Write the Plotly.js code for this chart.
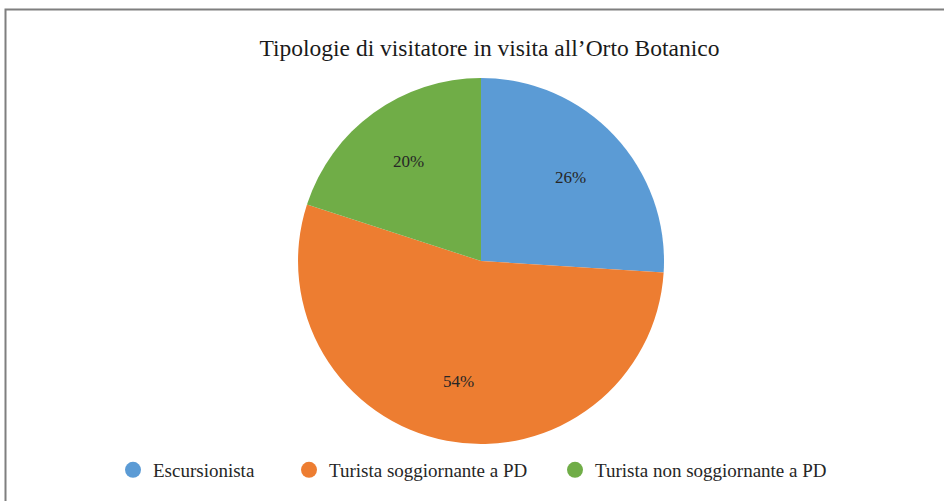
<!DOCTYPE html>
<html>
<head>
<meta charset="utf-8">
<script src="https://cdn.plot.ly/plotly-3.0.1.min.js"></script>
<style>html,body{margin:0;padding:0;background:#fff;}#chart{width:944px;height:501px;}
#fontwarm{position:absolute;left:0;top:0;font:20px "Liberation Serif";color:rgba(0,0,0,0);pointer-events:none;}</style>
</head>
<body>
<div id="fontwarm">Tipologie 26%</div>
<div id="chart"></div>
<script>
const categories = ["Escursionista", "Turista soggiornante a PD", "Turista non soggiornante a PD"];
const shares = [26, 54, 20];
const colors = ["#5B9BD5", "#ED7D31", "#70AD47"];
const chartTitle = "Tipologie di visitatore in visita all\u2019Orto Botanico";

const serif = "Liberation Serif";

// pie geometry (paper fractions)
const pieDomX = [0.3157, 0.7034];
const pieDomY = [0.1138, 0.8443];
const W = 944, H = 501;

const pieTrace = {
  type: "pie",
  labels: categories,
  values: shares,
  marker: {colors: colors, line: {width: 0}},
  sort: false,
  direction: "clockwise",
  rotation: 0,
  textinfo: "none",
  hoverinfo: "label+percent",
  showlegend: false,
  domain: {x: pieDomX, y: pieDomY}
};

// data labels placed at 2/3 of the radius along each slice's mid-angle
const total = shares.reduce((a, b) => a + b, 0);
const cx = (pieDomX[0] + pieDomX[1]) / 2 * W;
const cyPx = (pieDomY[0] + pieDomY[1]) / 2 * H;
const R = Math.min((pieDomX[1] - pieDomX[0]) * W, (pieDomY[1] - pieDomY[0]) * H) / 2;
let acc = 0;
const labelAnn = shares.map((v) => {
  const mid = (acc + v / 2) / total * 2 * Math.PI;
  acc += v;
  const px = cx + 0.67 * R * Math.sin(mid);
  const py = cyPx + 0.67 * R * Math.cos(mid);
  return {xref: "paper", yref: "paper", x: px / W, y: py / H, xanchor: "center", yanchor: "middle",
          text: Math.round(v / total * 100) + "%", showarrow: false,
          font: {family: serif, size: 17, color: "#262626"}};
});

const legendNames = ["legend", "legend2", "legend3"];
const legendX = [113 / W, 289 / W, 555 / W];
const legendTraces = categories.map((c, i) => ({
  type: "scatter",
  mode: "markers",
  x: [null], y: [null],
  name: c,
  legend: legendNames[i],
  marker: {symbol: "circle", size: 17, color: colors[i]},
  showlegend: true,
  hoverinfo: "skip"
}));

const layout = {
  width: W, height: H,
  margin: {l: 0, r: 0, t: 0, b: 0},
  paper_bgcolor: "#ffffff",
  plot_bgcolor: "rgba(0,0,0,0)",
  font: {family: serif},
  title: {text: chartTitle, font: {family: serif, size: 23.5, color: "#1a1a1a"}, x: 0.5185, xanchor: "center", y: 0.905, yanchor: "middle"},
  xaxis: {visible: false, domain: [0, 1]},
  yaxis: {visible: false, domain: [0, 1]},
  showlegend: true,
  annotations: labelAnn,
  shapes: [{type: "rect", xref: "paper", yref: "paper", x0: 5.5/W, x1: 1.02, y0: -0.02, y1: (H-9.5)/H,
            line: {color: "#7f7f7f", width: 2}, fillcolor: "rgba(0,0,0,0)"}]
};
legendNames.forEach((ln, i) => {
  layout[ln] = {orientation: "h", x: legendX[i], xanchor: "left", y: 0.062, yanchor: "middle",
                font: {family: serif, size: 19, color: "#262626"}, bgcolor: "rgba(0,0,0,0)"};
});

Plotly.newPlot("chart", [pieTrace].concat(legendTraces), layout, {displayModeBar: false, staticPlot: true});
</script>
</body>
</html>
